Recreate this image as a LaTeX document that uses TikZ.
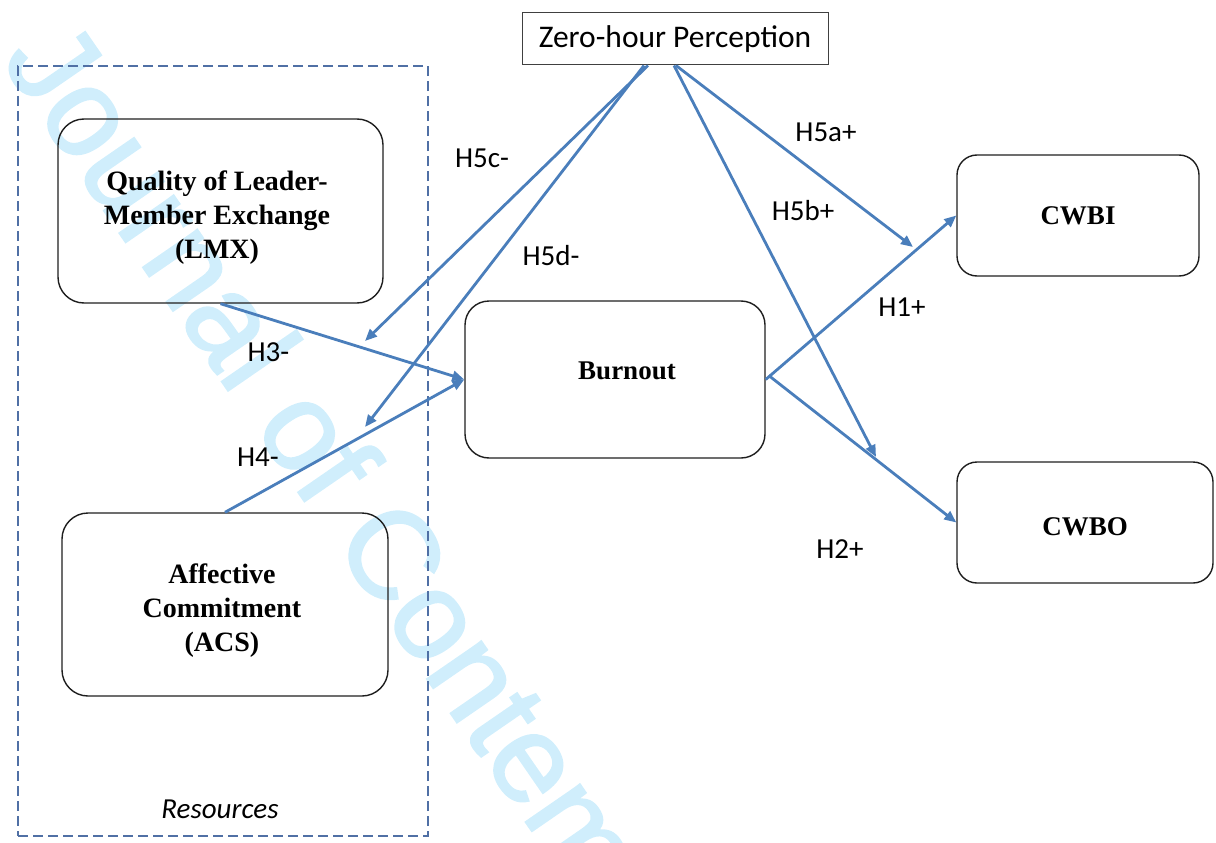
\documentclass[tikz,border=0pt]{standalone}
\usepackage{fontspec}
\setmainfont{Liberation Serif}
\newfontfamily\calib{Carlito}
\newfontfamily\wmfont[FakeBold=1.6]{Liberation Sans}
\usetikzlibrary{arrows.meta}
\definecolor{arrowblue}{RGB}{74,126,187}
\definecolor{dashblue}{RGB}{80,112,165}
\definecolor{wmcyan}{RGB}{208,238,252}
\definecolor{boxline}{RGB}{30,30,30}
\begin{document}
\begin{tikzpicture}[x=1pt,y=-1pt,
  construct/.style={draw=boxline, line width=1.4pt, rounded corners=26pt, inner sep=0pt},
  smallbox/.style={construct, rounded corners=20pt, font=\fontsize{27}{34}\selectfont\bfseries},
  boxtext/.style={inner sep=0pt, align=center, font=\fontsize{28}{34}\selectfont\bfseries},
  zerobox/.style={draw=black!75, line width=1pt, inner sep=0pt, minimum width=306pt, minimum height=52pt,
    font=\calib\fontsize{31.5}{34}\selectfont},
  hyp/.style={font=\calib\fontsize{29}{34}\selectfont, inner sep=0pt, anchor=base},
  link/.style={draw=arrowblue, line width=2.8pt, -{Triangle[length=12pt,width=10pt]}},
  groupbox/.style={draw=dashblue, line width=1.6pt, dash pattern=on 10pt off 5pt, inner sep=0pt},
  watermark/.style={text=wmcyan, font=\wmfont\fontsize{125}{125}\selectfont, inner sep=0pt}
]
\useasboundingbox (0,0) rectangle (1216,843);
\begin{scope}
\clip (0,0) rectangle (1216,843);
\node[watermark, anchor=base west, rotate=-55.4] (wm) at (0,60) {Journal of Contem};
\end{scope}

% group box
\node[groupbox, minimum width=410pt, minimum height=770pt] (resbox) at (223,451) {};
\node[font=\calib\itshape\fontsize{29}{34}\selectfont, inner sep=0pt, anchor=base] (reslabel) at (220,818) {Resources};

% constructs
\node[construct, minimum width=325pt, minimum height=184pt] (lmx) at (220.5,211) {};
\node[boxtext] (lmxtext) at (217,217.5) {Quality of Leader-\\Member Exchange\\(LMX)};
\node[construct, minimum width=326pt, minimum height=183pt] (acs) at (225,604.5) {};
\node[boxtext] (acstext) at (222,611) {Affective\\Commitment\\(ACS)};
\node[construct, rounded corners=24pt, minimum width=300pt, minimum height=157pt] (burnout) at (615,379.5) {};
\node[font=\fontsize{27}{34}\selectfont\bfseries, inner sep=0pt, anchor=base] (burnouttext) at (627,379) {Burnout};
\node[smallbox, minimum width=242pt, minimum height=121pt] (cwbi) at (1078,215.5) {CWBI};
\node[construct, rounded corners=20pt, minimum width=256pt, minimum height=121pt] (cwbo) at (1085,522.5) {};
\node[font=\fontsize{27}{34}\selectfont\bfseries, inner sep=0pt, anchor=base] (cwbotext) at (1085,535) {CWBO};
\node[zerobox] (zero) at (675,39) {Zero-hour Perception};

% targets of moderating arrows
\coordinate (t5c) at (365,341);
\coordinate (t5d) at (365,427);
\coordinate (t5a) at (913,247);
\coordinate (t5b) at (876,457);

% main paths
\draw[link] (lmx.south) -- (burnout.west);
\draw[link] (acs.north) -- (burnout.west);
\draw[link] (burnout.east) -- (cwbi.west);
\draw[link] ([xshift=3pt,yshift=4pt]burnout.east) -- (cwbo.west);

% moderation
\draw[link] ([xshift=-27pt]zero.south) -- (t5c);
\draw[link] ([xshift=-31pt]zero.south) -- (t5d);
\draw[link] ([xshift=1pt]zero.south) -- (t5a);
\draw[link] ([xshift=-1pt]zero.south) -- (t5b);

% labels
\node[hyp] (l5c) at (482,167) {H5c-};
\node[hyp] (l5d) at (551,265) {H5d-};
\node[hyp] (l5a) at (826,141.5) {H5a+};
\node[hyp] (l5b) at (803,220.5) {H5b+};
\node[hyp] (l1) at (902,316.5) {H1+};
\node[hyp] (l2) at (840,558) {H2+};
\node[hyp] (l3) at (268.5,361.5) {H3-};
\node[hyp] (l4) at (258,466.5) {H4-};
\end{tikzpicture}
\end{document}
